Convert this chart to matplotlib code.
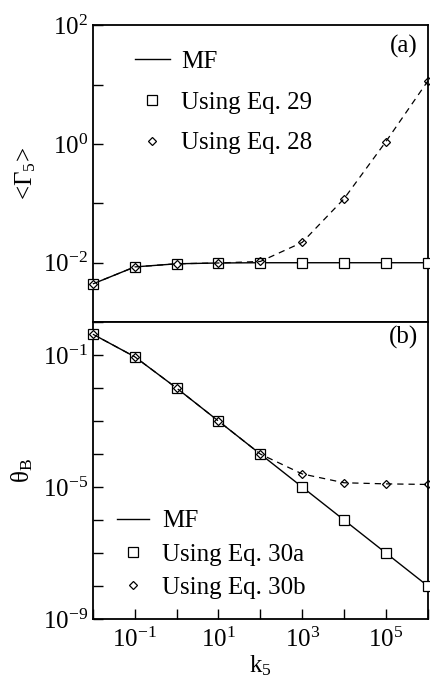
import numpy as np
import matplotlib
matplotlib.use('Agg')
import matplotlib.pyplot as plt
from matplotlib.ticker import LogLocator, FuncFormatter, NullLocator

plt.rcParams['font.family'] = ['Liberation Serif', 'DejaVu Serif']
plt.rcParams['mathtext.fontset'] = 'custom'
plt.rcParams['mathtext.rm'] = 'Liberation Serif'
plt.rcParams['mathtext.it'] = 'Liberation Serif:italic'
plt.rcParams['mathtext.default'] = 'rm'

# data
k5 = [1e-2, 1e-1, 1e0, 1e1, 1e2, 1e3, 1e4, 1e5, 1e6]

# panel (a): <Gamma_5>
gamma_mf = [4.4e-3, 8.5e-3, 9.6e-3, 9.9e-3, 1.0e-2, 1.0e-2, 1.0e-2, 1.0e-2, 1.0e-2]
gamma_eq29 = [4.4e-3, 8.5e-3, 9.6e-3, 9.9e-3, 1.0e-2, 1.0e-2, 1.0e-2, 1.0e-2, 1.0e-2]
gamma_eq28 = [4.4e-3, 8.5e-3, 9.6e-3, 9.9e-3, 1.05e-2, 2.2e-2, 1.2e-1, 1.1, 11.5]

# panel (b): theta_B
theta_mf = [0.43, 0.089, 1e-2, 1e-3, 1e-4, 1e-5, 1e-6, 1e-7, 1e-8]
theta_eq30a = [0.43, 0.089, 1e-2, 1e-3, 1e-4, 1e-5, 1e-6, 1e-7, 1e-8]
theta_eq30b = [0.43, 0.089, 1e-2, 1e-3, 1e-4, 2.5e-5, 1.35e-5, 1.25e-5, 1.2e-5]

xlabels = [-1, 1, 3, 5]
ylabels_a = [2, 0, -2]
ylabels_b = [-1, -5, -9]

fig = plt.figure(figsize=(4.3, 6.81), dpi=100)
ax1 = fig.add_axes([0.216, 0.527, 0.779, 0.436])
ax2 = fig.add_axes([0.216, 0.091, 0.779, 0.436], sharex=ax1)

def exp_fmt(shown):
    def f(v, pos):
        e = int(round(np.log10(v)))
        return r'$10^{%d}$' % e if e in shown else ''
    return FuncFormatter(f)

sq = dict(marker='s', ms=6.5, mfc='white', mec='black', mew=0.9, ls='none', clip_on=False, zorder=4)
dm = dict(marker='D', ms=4.5, mfc='none', mec='black', mew=0.9, clip_on=False, zorder=5)

# (a)
ax1.plot(k5, gamma_mf, '-', color='black', lw=1.0, label='MF')
ax1.plot(k5, gamma_eq29, label='Using Eq. 29', **sq)
ax1.plot(k5, gamma_eq28, ls=(0, (5, 4)), color='black', lw=0.9, **dm)
ax1.plot([], [], ls='none', color='black', label='Using Eq. 28', **dm)
ax1.set_xscale('log')
ax1.set_yscale('log')
ax1.set_xlim(1e-2, 1e6)
ax1.set_ylim(1e-3, 1e2)
ax1.yaxis.set_major_locator(LogLocator(base=10, numticks=20))
ax1.yaxis.set_minor_locator(NullLocator())
ax1.yaxis.set_major_formatter(exp_fmt(ylabels_a))
ax1.set_ylabel('<Γ$_5$>', fontsize=18, labelpad=4)
ax1.text(0.97, 0.93, '(a)', transform=ax1.transAxes, ha='right', va='center', fontsize=18)
ax1.legend(loc='upper left', bbox_to_anchor=(0.125, 0.915), frameon=False, fontsize=18,
           handlelength=1.4, handletextpad=0.45, labelspacing=0.73, borderpad=0, borderaxespad=0,
           numpoints=1)

# (b)
ax2.plot(k5, theta_mf, '-', color='black', lw=1.0, label='MF')
ax2.plot(k5, theta_eq30a, label='Using Eq. 30a', **sq)
ax2.plot(k5, theta_eq30b, ls=(0, (5, 4)), color='black', lw=0.9, **dm)
ax2.plot([], [], ls='none', color='black', label='Using Eq. 30b', **dm)
ax2.set_yscale('log')
ax2.set_ylim(1e-9, 1e0)
ax2.yaxis.set_major_locator(LogLocator(base=10, numticks=20))
ax2.yaxis.set_minor_locator(NullLocator())
ax2.yaxis.set_major_formatter(exp_fmt(ylabels_b))
ax2.xaxis.set_major_locator(LogLocator(base=10, numticks=20))
ax2.xaxis.set_minor_locator(NullLocator())
ax2.xaxis.set_major_formatter(exp_fmt(xlabels))
ax2.set_ylabel(r'$\mathrm{\theta_B}$', fontsize=18, labelpad=6)
ax2.set_xlabel(r'$\mathrm{k_5}$', fontsize=18, labelpad=1)
ax2.text(0.97, 0.95, '(b)', transform=ax2.transAxes, ha='right', va='center', fontsize=18)
ax2.legend(loc='upper left', bbox_to_anchor=(0.072, 0.368), frameon=False, fontsize=18,
           handlelength=1.3, handletextpad=0.5, labelspacing=0.43, borderpad=0, borderaxespad=0,
           numpoints=1)

for ax in (ax1, ax2):
    ax.tick_params(which='both', direction='in', length=7, width=1.0, labelsize=18,
                   top=False, right=False)
    for s in ax.spines.values():
        s.set_linewidth(1.3)
ax1.tick_params(axis='x', which='both', bottom=False, labelbottom=False)
ax2.tick_params(axis='x', pad=6)

fig.savefig('out.png', dpi=100)
